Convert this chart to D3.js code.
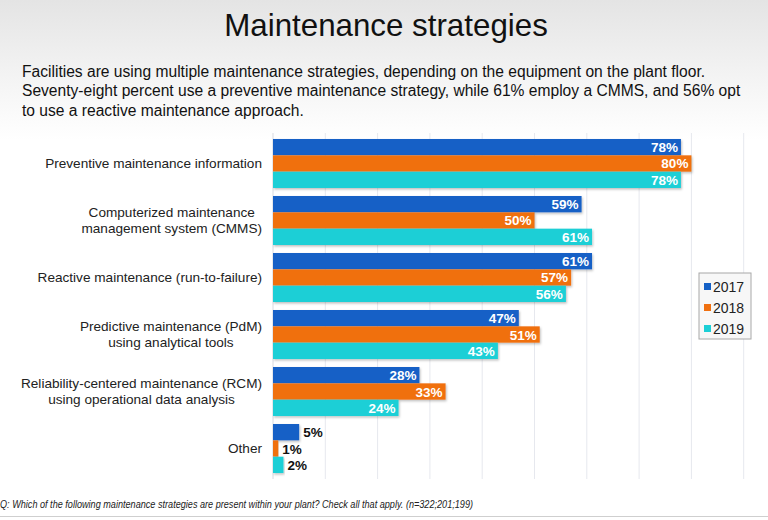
<!DOCTYPE html>
<html><head><meta charset="utf-8">
<script src="https://cdn.jsdelivr.net/npm/d3@7"></script>
<style>body{margin:0;background:#fff}svg{display:block;font-family:"Liberation Sans",Arial,sans-serif}</style>
</head><body><div id="chart"></div>
<script>
const categories = [
  ["Preventive maintenance information"],
  ["Computerized maintenance", "management system (CMMS)"],
  ["Reactive maintenance (run-to-failure)"],
  ["Predictive maintenance (PdM)", "using analytical tools"],
  ["Reliability-centered maintenance (RCM)", "using operational data analysis"],
  ["Other"]
];
const years = ["2017", "2018", "2019"];
const values2017 = [78, 59, 61, 47, 28, 5];
const values2018 = [80, 50, 57, 51, 33, 1];
const values2019 = [78, 61, 56, 43, 24, 2];
const gridTicks = [10, 20, 30, 40, 50, 60, 70, 80, 90];
const colors = ["#1561c6", "#f07010", "#1ccfd6"];
const title = "Maintenance strategies";
const subtitle = [
  "Facilities are using multiple maintenance strategies, depending on the equipment on the plant floor.",
  "Seventy-eight percent use a preventive maintenance strategy, while 61% employ a CMMS, and 56% opt",
  "to use a reactive maintenance approach."
];
const footnote = "Q: Which of the following maintenance strategies are present within your plant? Check all that apply. (n=322;201;199)";

const series = [values2017, values2018, values2019];
const W = 768, H = 520;
const svg = d3.select("#chart").append("svg").attr("width", W).attr("height", H);

const defs = svg.append("defs");
const bg = defs.append("linearGradient").attr("id", "bg").attr("x1", 0).attr("y1", 0).attr("x2", 0).attr("y2", 1);
bg.append("stop").attr("offset", "0%").attr("stop-color", "#e4e4e4");
bg.append("stop").attr("offset", "60%").attr("stop-color", "#f5f5f5");
bg.append("stop").attr("offset", "100%").attr("stop-color", "#ffffff");
svg.append("rect").attr("width", W).attr("height", 140).attr("fill", "url(#bg)");
const sh = defs.append("filter").attr("id", "sh").attr("x", "-5%").attr("y", "-20%").attr("width", "115%").attr("height", "160%");
sh.append("feDropShadow").attr("dx", 1).attr("dy", 1.5).attr("stdDeviation", 1).attr("flood-color", "#000").attr("flood-opacity", 0.25);

svg.append("text").attr("x", 386).attr("y", 36).attr("text-anchor", "middle")
  .attr("font-size", 31.3).attr("fill", "#111").text(title);
svg.append("g").selectAll("text").data(subtitle).join("text")
  .attr("x", 22).attr("y", (d, i) => 77 + i * 19.3)
  .attr("font-size", 15.6).attr("fill", "#111").text(d => d);

const x = d3.scaleLinear().domain([0, 10]).range([273, 325.3]);
const y0 = d3.scaleBand().domain(d3.range(categories.length)).range([135, 477]).paddingInner(8 / 57).paddingOuter(0.07);
const y1 = d3.scaleBand().domain(d3.range(years.length)).range([0, y0.bandwidth()]);

// gridlines
svg.append("g").selectAll("line").data(gridTicks).join("line")
  .attr("x1", d => x(d)).attr("x2", d => x(d)).attr("y1", 133).attr("y2", 479)
  .attr("stroke", "#e6e8ee").attr("stroke-width", 1);
svg.append("line").attr("x1", x(0)).attr("x2", x(0)).attr("y1", 133).attr("y2", 479)
  .attr("stroke", "#d8dae0");

const groups = svg.append("g").selectAll("g").data(categories).join("g")
  .attr("transform", (d, i) => `translate(0,${y0(i)})`);

groups.each(function (cat, ci) {
  const g = d3.select(this);
  series.forEach((vals, si) => {
    const v = vals[ci];
    g.append("rect").attr("x", x(0)).attr("y", y1(si)).attr("width", x(v) - x(0)).attr("height", y1.bandwidth())
      .attr("fill", colors[si]).attr("filter", "url(#sh)");
    const inside = v >= 10;
    g.append("text")
      .attr("x", inside ? x(v) - 3 : x(v) + 4)
      .attr("y", y1(si) + y1.bandwidth() / 2 + 5)
      .attr("text-anchor", inside ? "end" : "start")
      .attr("font-size", 13.5).attr("font-weight", "bold")
      .attr("fill", inside ? "#fff" : "#111")
      .text(v + "%");
  });
  // category label
  const lt = g.append("text").attr("font-size", 13.6).attr("fill", "#222");
  const cy = y0.bandwidth() / 2;
  const n = cat.length;
  const spans = lt.selectAll("tspan").data(cat).join("tspan")
    .attr("y", (d, i) => cy + 4.5 + (i - (n - 1) / 2) * 16).text(d => d);
  let maxW = 0;
  spans.each(function () { maxW = Math.max(maxW, this.getComputedTextLength()); });
  const center = 262 - maxW / 2;
  spans.attr("x", center).attr("text-anchor", "middle");
});

// legend
const lg = svg.append("g").attr("transform", "translate(699,273)");
lg.append("rect").attr("width", 52).attr("height", 66).attr("fill", "#f7f7f7").attr("stroke", "#a8a8a8");
years.forEach((yr, i) => {
  lg.append("rect").attr("x", 5).attr("y", 10 + i * 21).attr("width", 7).attr("height", 7).attr("fill", colors[i]);
  lg.append("text").attr("x", 14).attr("y", 18.5 + i * 21).attr("font-size", 14).attr("fill", "#222").text(yr);
});

svg.append("text").attr("x", 0).attr("y", 508).attr("font-size", 10).attr("font-style", "italic")
  .attr("textLength", 473).attr("lengthAdjust", "spacingAndGlyphs")
  .attr("fill", "#222").text(footnote);
svg.append("line").attr("x1", 0).attr("x2", W).attr("y1", 516.5).attr("y2", 516.5).attr("stroke", "#cfcfcf");
</script></body></html>
